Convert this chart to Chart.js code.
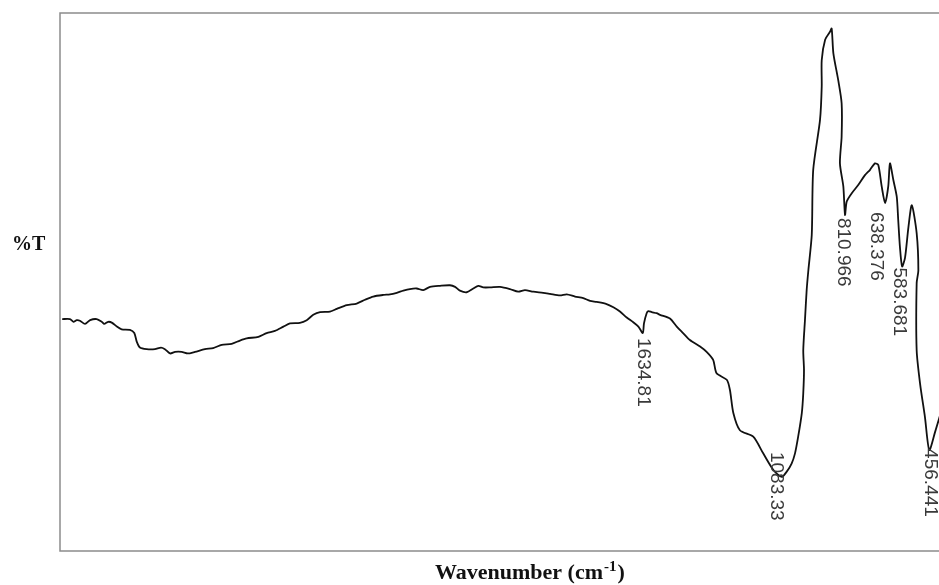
<!DOCTYPE html>
<html>
<head>
<meta charset="utf-8">
<script src="https://cdn.jsdelivr.net/npm/chart.js@4.4.1/dist/chart.umd.min.js"></script>
<style>
  html, body { margin: 0; padding: 0; background: #fff; }
  #wrap { width: 939px; height: 585px; position: relative; }
</style>
</head>
<body>
<div id="wrap"><canvas id="ir"></canvas></div>
<script>
// FTIR spectrum (x = wavenumber, y = %T)
const wavenumber = [
  4026, 3994, 3980, 3966, 3953, 3932, 3911, 3884, 3863, 3853,
  3836, 3820, 3801, 3781, 3747, 3729, 3719, 3706, 3678, 3644,
  3619, 3603, 3582, 3561, 3534, 3509, 3479, 3438, 3404, 3369,
  3328, 3294, 3266, 3218, 3184, 3150, 3115, 3088, 3047, 3019,
  2992, 2964, 2923, 2895, 2854, 2813, 2779, 2745, 2703, 2676,
  2648, 2621, 2594, 2566, 2539, 2511, 2470, 2429, 2408, 2388,
  2360, 2333, 2312, 2292, 2264, 2223, 2182, 2148, 2120, 2086,
  2045, 2017, 1976, 1948, 1914, 1880, 1852, 1825, 1784, 1756,
  1729, 1701, 1674, 1653, 1635, 1630, 1619, 1612, 1598, 1578,
  1564, 1523, 1495, 1469, 1441, 1399, 1372, 1345, 1331, 1289,
  1276, 1262, 1235, 1180, 1139, 1097, 1063, 1042, 1022, 1008,
  995, 980, 974, 971, 974, 967, 960, 953, 939, 933,
  905, 898, 898, 884, 864, 857, 850, 830, 816, 816,
  823, 809, 802, 795, 775, 747, 720, 699, 679, 665,
  651, 637, 624, 617, 603, 589, 583, 576, 567, 555,
  541, 527, 507, 500, 507, 507, 493, 473, 455, 431, 411
];
const transmittance = [
  43.0, 43.0, 42.5, 42.8, 42.7, 42.1, 42.8, 43.0, 42.5, 42.1,
  42.5, 42.3, 41.6, 41.1, 41.0, 40.4, 38.8, 37.7, 37.4, 37.4,
  37.7, 37.4, 36.6, 36.9, 36.9, 36.6, 36.9, 37.4, 37.6, 38.2,
  38.4, 39.0, 39.4, 39.7, 40.4, 40.8, 41.6, 42.2, 42.3, 42.8,
  43.8, 44.3, 44.4, 44.9, 45.6, 45.9, 46.6, 47.2, 47.5, 47.6,
  47.9, 48.3, 48.6, 48.7, 48.4, 49.0, 49.2, 49.3, 49.0, 48.3,
  48.0, 48.7, 49.2, 48.9, 48.9, 49.0, 48.6, 48.1, 48.4, 48.1,
  47.9, 47.7, 47.4, 47.6, 47.2, 46.9, 46.4, 46.2, 45.8, 45.2,
  44.4, 43.3, 42.4, 41.6, 40.4, 42.2, 44.1, 44.5, 44.3, 44.1,
  43.8, 43.1, 41.6, 40.4, 39.1, 37.9, 36.9, 35.4, 32.9, 31.7,
  29.8, 25.5, 22.3, 21.1, 18.0, 14.9, 13.6, 14.6, 16.1, 18.0,
  21.1, 25.5, 29.2, 33.5, 37.2, 42.8, 48.4, 52.1, 58.7, 70.8,
  80.1, 86.3, 91.2, 95.0, 96.5, 97.1, 92.5, 87.5, 83.2, 77.0,
  72.0, 67.7, 62.4, 64.9, 66.4, 68.0, 69.8, 70.8, 72.0, 71.7,
  67.7, 64.6, 67.7, 72.0, 68.9, 65.8, 61.5, 56.5, 52.8, 54.4,
  60.1, 64.2, 59.0, 52.1, 49.7, 37.2, 31.0, 24.8, 18.6, 22.0, 25.0
];

// peak annotations (value printed, and %T at the dip)
const peakLabels = ["1634.81", "1083.33", "810.966", "638.376", "583.681", "456.441"];
const peakWn = [1634.81, 1083.33, 810.966, 638.376, 583.681, 456.441];
const peakT = [40.4, 13.6, 62.4, 64.6, 52.8, 18.6];

const xTitle = "Wavenumber (cm";
const xTitleSup = "-1";
const yTitle = "%T";

// label nudges in px (the instrument moved some of them to avoid overlap)
const labelShift = [[0, 5], [0, -25], [0, 3], [-9, 9], [1, 1], [1, -2]];

const points = wavenumber.map((w, i) => ({ x: w, y: transmittance[i] }));

const decorations = {
  id: "decorations",
  afterDraw(chart) {
    const { ctx, chartArea: a, scales } = chart;
    ctx.save();

    // frame: top, left, bottom (right side is cut off in the original)
    ctx.strokeStyle = "#8c8c8c";
    ctx.lineWidth = 1.5;
    ctx.beginPath();
    ctx.moveTo(a.right + 2, a.top);
    ctx.lineTo(a.left, a.top);
    ctx.lineTo(a.left, a.bottom);
    ctx.lineTo(a.right + 2, a.bottom);
    ctx.stroke();

    // rotated peak labels
    ctx.fillStyle = "#3a3a3a";
    ctx.font = "19px 'Liberation Sans', Arial, sans-serif";
    ctx.textAlign = "left";
    ctx.textBaseline = "middle";
    peakLabels.forEach((txt, i) => {
      const px = scales.x.getPixelForValue(peakWn[i]) + labelShift[i][0];
      const py = scales.y.getPixelForValue(peakT[i]) + labelShift[i][1];
      ctx.save();
      ctx.translate(px, py);
      ctx.rotate(Math.PI / 2);
      ctx.fillText(txt, 0, 0);
      ctx.restore();
    });

    // axis titles
    ctx.fillStyle = "#111";
    ctx.textBaseline = "alphabetic";
    ctx.font = "bold 20px 'Liberation Serif', 'Times New Roman', serif";
    ctx.fillText(yTitle, 12, 250);

    ctx.font = "bold 22px 'Liberation Serif', 'Times New Roman', serif";
    let x = 435;
    ctx.fillText(xTitle, x, 579);
    x += ctx.measureText(xTitle).width + 1;
    ctx.font = "bold 15px 'Liberation Serif', 'Times New Roman', serif";
    ctx.fillText(xTitleSup, x, 571);
    x += ctx.measureText(xTitleSup).width + 1;
    ctx.font = "bold 22px 'Liberation Serif', 'Times New Roman', serif";
    ctx.fillText(")", x, 579);

    ctx.restore();
  },
};

new Chart(document.getElementById("ir"), {
  type: "scatter",
  data: {
    datasets: [
      {
        data: points,
        showLine: true,
        borderColor: "#111",
        borderWidth: 1.8,
        pointRadius: 0,
        tension: 0.25,
        fill: false,
      },
    ],
  },
  options: {
    responsive: true,
    maintainAspectRatio: false,
    animation: false,
    layout: { padding: { left: 60, top: 13, right: 0, bottom: 34 } },
    plugins: {
      legend: { display: false },
      tooltip: { enabled: false },
    },
    scales: {
      x: { type: "linear", reverse: true, min: 415, max: 4035, display: false },
      y: { type: "linear", min: -0.186, max: 100, display: false },
    },
  },
  plugins: [decorations],
});
</script>
</body>
</html>
